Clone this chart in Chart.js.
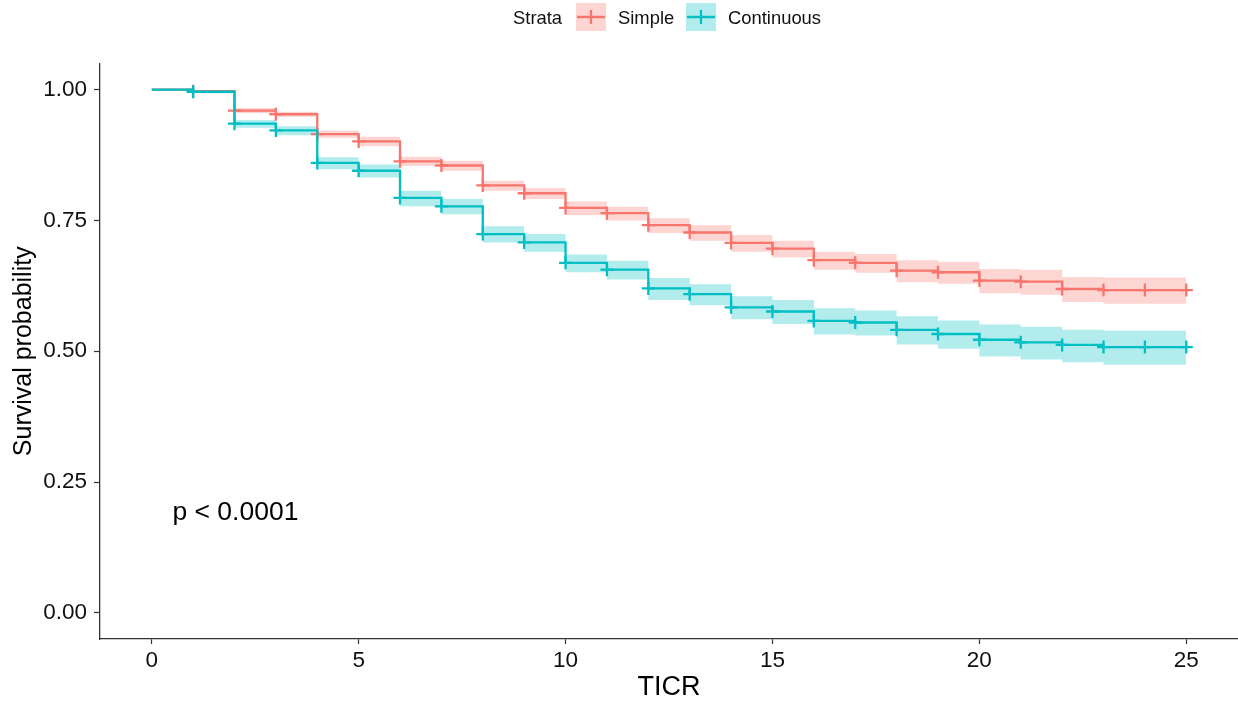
<!DOCTYPE html>
<html>
<head>
<meta charset="utf-8">
<script src="https://cdn.jsdelivr.net/npm/chart.js@4"></script>
<style>
html,body{margin:0;padding:0;background:#fff;overflow:hidden;}
#wrap{position:relative;width:1238px;height:703px;}
</style>
</head>
<body>
<div id="wrap"><canvas id="c" width="1238" height="703"></canvas></div>
<script>
// ---- data ----
const times = [0,1,2,3,4,5,6,7,8,9,10,11,12,13,14,15,16,17,18,19,20,21,22,23,24,25];
const strataNames = ['Simple', 'Continuous'];
const simpleSurv  = [1.000,0.997,0.960,0.953,0.915,0.901,0.863,0.855,0.817,0.802,0.774,0.764,0.741,0.727,0.707,0.696,0.674,0.669,0.654,0.651,0.635,0.633,0.619,0.617,0.617,0.617];
const simpleUpper = [1.000,0.999,0.965,0.958,0.922,0.910,0.872,0.864,0.826,0.812,0.786,0.776,0.754,0.741,0.722,0.711,0.690,0.686,0.674,0.671,0.657,0.656,0.642,0.641,0.641,0.641];
const simpleLower = [1.000,0.995,0.955,0.948,0.908,0.892,0.854,0.845,0.807,0.791,0.760,0.750,0.726,0.711,0.690,0.679,0.656,0.650,0.632,0.629,0.611,0.608,0.594,0.591,0.591,0.591];
const contSurv    = [1.000,0.996,0.935,0.922,0.860,0.845,0.793,0.777,0.724,0.708,0.669,0.656,0.620,0.609,0.584,0.576,0.558,0.555,0.541,0.533,0.522,0.517,0.512,0.508,0.508,0.508];
const contUpper   = [1.000,0.999,0.942,0.930,0.871,0.857,0.807,0.791,0.739,0.724,0.685,0.673,0.640,0.628,0.605,0.598,0.582,0.578,0.567,0.559,0.551,0.547,0.541,0.539,0.539,0.539];
const contLower   = [1.000,0.993,0.927,0.913,0.848,0.832,0.777,0.762,0.708,0.690,0.651,0.637,0.598,0.588,0.561,0.552,0.532,0.530,0.513,0.505,0.490,0.484,0.479,0.474,0.474,0.474];
// censor marks (1 = mark at that time)
const censorFlags = [0,1,1,1,1,1,1,1,1,1,1,1,1,1,1,1,1,1,1,1,1,1,1,1,1,1];
const xTickValues = [0,5,10,15,20,25];
const xTickLabels = ['0','5','10','15','20','25'];
const yTickValues = [0,0.25,0.5,0.75,1];
const yTickLabels = ['0.00','0.25','0.50','0.75','1.00'];
const pValueText = 'p < 0.0001';
const legendTitle = 'Strata';
const xTitle = 'TICR';
const yTitle = 'Survival probability';

// ---- styles ----
const RED = '#F8766D', CYAN = '#00BFC4';
const RED_F = 'rgba(248,118,109,0.3)', CYAN_F = 'rgba(0,191,196,0.3)';
const FONT = "'Liberation Sans', Arial, sans-serif";
const AXIS = '#333333';

const pts = arr => times.map((t,i) => ({x:t, y:arr[i]}));
const radii = censorFlags.map(f => f ? 6.5 : 0);

function lineDs(label, arr, color){
  return {label, data: pts(arr), stepped:'before', borderColor:color, borderWidth:2.3,
    backgroundColor:color, pointStyle:'cross', pointRadius:radii, pointBorderWidth:2.3,
    pointBorderColor:color, pointHoverRadius:0, fill:false, tension:0, clip:false};
}
function bandDs(label, arr, fillColor, fill){
  return {label, data: pts(arr), stepped:'before', borderColor:'transparent', borderWidth:0,
    backgroundColor:fillColor, pointRadius:0, fill:fill, tension:0};
}

const legendPlugin = {
  id:'kmLegend',
  afterDraw(chart){
    const ctx = chart.ctx;
    ctx.save();
    ctx.font = '18.4px ' + FONT;
    ctx.fillStyle = '#111';
    ctx.textBaseline = 'middle';
    ctx.textAlign = 'left';
    const ky = 17, ty = 19;
    ctx.fillText(legendTitle, 513, ty);
    const keys = [{x:576, fill:RED_F, col:RED, text:strataNames[0], tx:618},
                  {x:686, fill:CYAN_F, col:CYAN, text:strataNames[1], tx:728}];
    keys.forEach(k => {
      ctx.fillStyle = k.fill;
      ctx.fillRect(k.x, 3, 30, 28);
      ctx.strokeStyle = k.col;
      ctx.lineWidth = 2.3;
      ctx.beginPath();
      ctx.moveTo(k.x+1, ky); ctx.lineTo(k.x+29, ky);
      ctx.moveTo(k.x+15, ky-7); ctx.lineTo(k.x+15, ky+7);
      ctx.stroke();
      ctx.fillStyle = '#111';
      ctx.fillText(k.text, k.tx, ty);
    });
    // p-value annotation
    ctx.font = '26.5px ' + FONT;
    ctx.textBaseline = 'alphabetic';
    ctx.fillStyle = '#000';
    const xs = chart.scales.x, ys = chart.scales.y;
    ctx.fillText(pValueText, xs.getPixelForValue(0.5), ys.getPixelForValue(0.178));
    ctx.restore();
  }
};

new Chart(document.getElementById('c'), {
  type:'line',
  data:{ datasets:[
    lineDs(strataNames[1], contSurv, CYAN),
    lineDs(strataNames[0], simpleSurv, RED),
    bandDs('cu', contUpper, CYAN_F, '+1'),
    bandDs('cl', contLower, CYAN_F, false),
    bandDs('su', simpleUpper, RED_F, '+1'),
    bandDs('sl', simpleLower, RED_F, false)
  ]},
  options:{
    responsive:false, animation:false, devicePixelRatio:1,
    layout:{autoPadding:false, padding:{top:63.5, left:0, right:0, bottom:0}},
    plugins:{legend:{display:false}, tooltip:{enabled:false}, filler:{drawTime:'beforeDatasetsDraw'}},
    events:[],
    scales:{
      x:{type:'linear', min:-1.25, max:26.25,
        afterBuildTicks: s => { s.ticks = xTickValues.map(v => ({value:v})); },
        afterFit: s => { s.height = 64; s.paddingLeft = 0; s.paddingRight = 0; },
        ticks:{callback:(v) => xTickLabels[xTickValues.indexOf(v)], font:{family:FONT, size:22.5}, color:'#111', padding:3, maxRotation:0, autoSkip:false},
        grid:{display:true, drawOnChartArea:false, drawTicks:true, tickLength:5, tickColor:AXIS, tickWidth:1.2},
        border:{display:true, color:AXIS, width:1.3},
        title:{display:true, text:xTitle, font:{family:FONT, size:27, lineHeight:1}, color:'#000', padding:{top:0, bottom:1.5}}
      },
      y:{type:'linear', min:-0.05, max:1.05,
        afterBuildTicks: s => { s.ticks = yTickValues.map(v => ({value:v})); },
        afterFit: s => { s.width = 100; s.paddingTop = 0; s.paddingBottom = 0; },
        ticks:{callback:(v) => yTickLabels[yTickValues.indexOf(v)], font:{family:FONT, size:22.5}, color:'#111', padding:7, autoSkip:false},
        grid:{display:true, drawOnChartArea:false, drawTicks:true, tickLength:6, tickColor:AXIS, tickWidth:1.2},
        border:{display:true, color:AXIS, width:1.3},
        title:{display:true, text:yTitle, font:{family:FONT, size:25, lineHeight:1}, color:'#000', padding:{top:11.5, bottom:0}}
      }
    }
  },
  plugins:[legendPlugin]
});
</script>
</body>
</html>
